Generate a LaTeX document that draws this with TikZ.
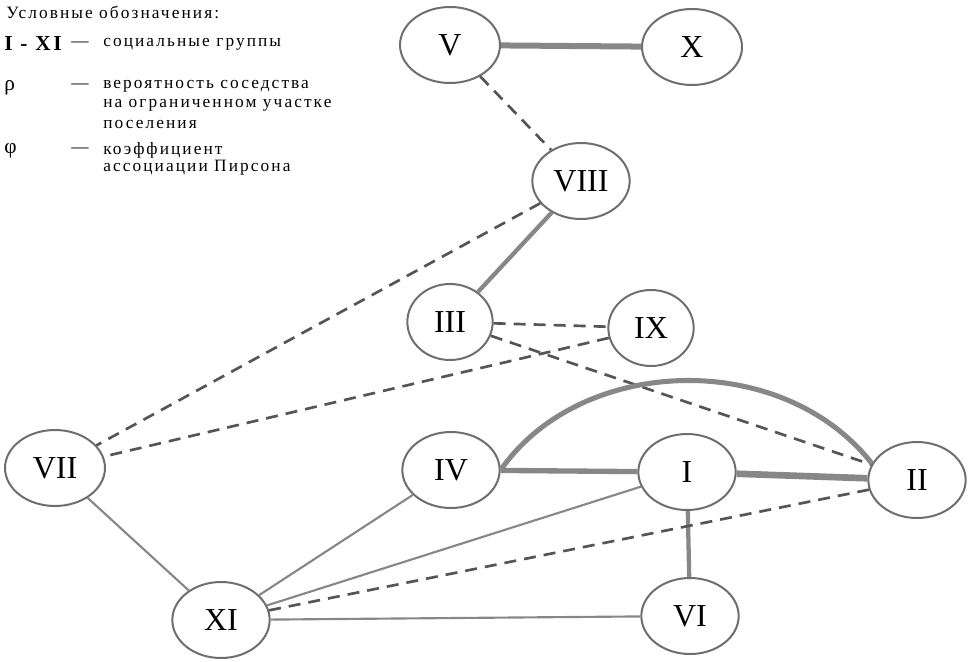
\documentclass[tikz,border=0pt]{standalone}
\usepackage{fontspec}
\setmainfont{Liberation Serif}
\newfontfamily\legfont[LetterSpace=12]{Liberation Serif}
\usetikzlibrary{shapes.geometric}

\definecolor{lineGray}{RGB}{135,135,135}
\definecolor{dashGray}{RGB}{85,85,85}
\definecolor{rimGray}{RGB}{110,110,110}

\begin{document}
\begin{tikzpicture}[x=0.75pt,y=0.75pt,yscale=-1,xscale=1,
  grp/.style={ellipse, draw=rimGray, line width=1.5pt, fill=white, inner sep=0pt,
    minimum width=73pt, minimum height=57pt, font=\fontsize{24}{28}\selectfont},
  legtxt/.style={anchor=west, inner sep=0.75pt, font=\legfont\fontsize{13}{15}\selectfont},
  strongLink/.style={draw=lineGray, line width=4.5pt},
  midLink/.style={draw=lineGray, line width=3.2pt},
  weakLink/.style={draw=lineGray, line width=1.6pt},
  dashLink/.style={draw=dashGray, line width=2pt, dash pattern={on 9pt off 6pt}}]
\useasboundingbox (0,0) rectangle (980,661);

% Nodes
\draw (450,45) node [grp, minimum width=75pt] (V) {V};
\draw (692,47) node [grp, minimum width=75pt] (X) {X};
\draw (581,181) node [grp] (VIII) {VIII};
\draw (450,322) node [grp, minimum width=64pt] (III) {III};
\draw (651,328) node [grp, minimum width=64pt] (IX) {IX};
\draw (55,468) node [grp, minimum width=75pt] (VII) {VII};
\draw (451,470) node [grp] (IV) {IV};
\draw (687,472) node [grp] (I) {I};
\draw (917,480) node [grp] (II) {II};
\draw (221,620) node [grp] (XI) {XI};
\draw (690,616) node [grp] (VI) {VI};

%Straight Lines
\draw [strongLink] (V) -- (X);
\draw [dashLink] (V) -- (VIII);
\draw [midLink] (VIII) -- (III);
\draw [dashLink] (VIII) -- (VII);
\draw [dashLink] (III) -- (IX);
\draw [dashLink] (III) -- (II);
\draw [dashLink] (IX) -- (VII);
\draw [strongLink, line width=4pt] (IV) -- (I);
\draw [strongLink, line width=5pt] (I) -- (II);
\draw [midLink] (I) -- (VI);
\draw [weakLink] (VII) -- (XI);
\draw [weakLink] (XI) -- (IV);
\draw [weakLink] (XI) -- (I);
\draw [dashLink] (XI) -- (II);
\draw [weakLink] (XI) -- (VI);
%Curve Lines
\draw [strongLink, line width=3.8pt] (IV.east) .. controls +(80,-115) and +(-90,-115) .. (II.160);

% Text Node
\draw (5,12) node [legtxt] (legHead) {Условные обозначения:};
% Text Node
\draw (3,44) node [legtxt, font=\legfont\fontsize{16}{18}\selectfont\bfseries] (legGrp) {I - XI};
\draw (70,44) node [legtxt] (legDashA) {—};
\draw (102,44) node [legtxt] (legGrpTxt) {социальные группы};
% Text Node
\draw (3,88) node [legtxt, font=\fontsize{16}{18}\selectfont] (legRho) {ρ};
\draw (70,86) node [legtxt] (legDashB) {—};
\draw (102,86) node [legtxt] (legRhoA) {вероятность соседства};
\draw (102,105) node [legtxt] (legRhoB) {на ограниченном участке};
\draw (102,124) node [legtxt] (legRhoC) {поселения};
% Text Node
\draw (3,151) node [legtxt, font=\fontsize{16}{18}\selectfont] (legPhi) {φ};
\draw (70,150) node [legtxt] (legDashC) {—};
\draw (102,150) node [legtxt] (legPhiA) {коэффициент};
\draw (102,168) node [legtxt] (legPhiB) {ассоциации Пирсона};

\end{tikzpicture}
\end{document}
